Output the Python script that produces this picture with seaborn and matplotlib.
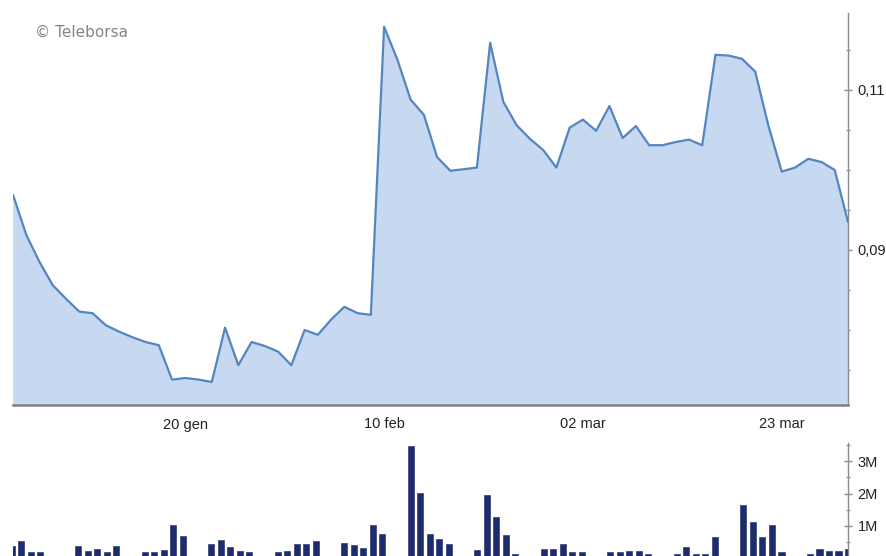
import numpy as np
import pandas as pd
import matplotlib
matplotlib.use("Agg")
import matplotlib.pyplot as plt
from matplotlib.ticker import MultipleLocator
import seaborn as sns

# prezzo di chiusura (un punto per seduta)
price = [0.0969, 0.0919, 0.0885, 0.0856, 0.0839, 0.0823, 0.0821, 0.0806,
         0.0798, 0.0791, 0.0785, 0.0781, 0.0738, 0.0740, 0.0738, 0.0735,
         0.0803, 0.0756, 0.0785, 0.0780, 0.0773, 0.0756, 0.0800, 0.0794,
         0.0813, 0.0829, 0.0821, 0.0819, 0.1179, 0.1138, 0.1088, 0.1069,
         0.1016, 0.0999, 0.1001, 0.1003, 0.1159, 0.1085, 0.1056, 0.1039,
         0.1025, 0.1003, 0.1053, 0.1063, 0.1049, 0.1080, 0.1040, 0.1055,
         0.1031, 0.1031, 0.1035, 0.1038, 0.1031, 0.1144, 0.1143, 0.1139,
         0.1123, 0.1055, 0.0998, 0.1003, 0.1014, 0.1010, 0.1000, 0.0935]
price_dates = pd.bdate_range("2019-12-31", "2020-03-30").drop(pd.Timestamp("2020-01-01"))

tick_dates = ["2020-01-20", "2020-02-10", "2020-03-02", "2020-03-23"]
tick_labels = ["20 gen", "10 feb", "02 mar", "23 mar"]
price_ticks = [0.09, 0.11]
price_tick_labels = ["0,09", "0,11"]

# volumi in milioni di pezzi
volume_dates = pd.bdate_range("2019-12-30", "2020-03-27")
volume_m = [0.40, 0.55, 0.21, 0.21, 0.00,
            0.40, 0.24, 0.30, 0.21, 0.40,
            0.21, 0.21, 0.27, 1.04, 0.70,
            0.46, 0.58, 0.37, 0.24, 0.21,
            0.21, 0.24, 0.46, 0.46, 0.55,
            0.49, 0.43, 0.34, 1.04, 0.76,
            3.50, 2.04, 0.76, 0.61, 0.46,
            0.27, 1.98, 1.31, 0.73, 0.15,
            0.30, 0.30, 0.46, 0.21, 0.21,
            0.21, 0.21, 0.24, 0.24, 0.15,
            0.15, 0.37, 0.15, 0.15, 0.67,
            1.68, 1.16, 0.67, 1.04, 0.21,
            0.15, 0.30, 0.24, 0.24, 0.30]
volume_ticks = [1, 2, 3]
volume_tick_labels = ["1M", "2M", "3M"]

LINE = "#5585bf"
FILL = "#c6d9f0"
BAR = "#1f2c6c"
AXIS = "#8c8c8c"
TXT = "#222222"

sns.set_style("white")
plt.rcParams["font.family"] = ["Liberation Sans", "DejaVu Sans"]

W, H = 887, 556
fig = plt.figure(figsize=(W / 100, H / 100), dpi=100)
ax = fig.add_axes([13 / W, 1 - 405 / H, 835 / W, 392 / H])
axv = fig.add_axes([13 / W, 0, 835 / W, (556 - 443) / H])

# --- prezzo
df = pd.DataFrame({"idx": np.arange(len(price)), "price": price})
ax.fill_between(df["idx"], df["price"], 0, color=FILL, lw=0, zorder=1)
sns.lineplot(data=df, x="idx", y="price", ax=ax, color=LINE, lw=1.6, zorder=3)
ax.set_xlim(0, len(price) - 1)
ax.set_ylim(0.070625, 0.119625)

tick_idx = [price_dates.get_loc(pd.Timestamp(d)) for d in tick_dates]
ax.set_xticks(tick_idx)
ax.set_xticklabels(tick_labels)
ax.yaxis.tick_right()
ax.set_yticks(price_ticks)
ax.set_yticklabels(price_tick_labels)
ax.yaxis.set_minor_locator(MultipleLocator(0.005))
ax.set_xlabel("")
ax.set_ylabel("")

for s in ["left", "top"]:
    ax.spines[s].set_visible(False)
ax.spines["bottom"].set_color("#7f7f7f")
ax.spines["bottom"].set_linewidth(1.8)
ax.spines["right"].set_color(AXIS)
ax.spines["right"].set_linewidth(1.0)
ax.tick_params(axis="x", direction="inout", length=8, width=1, color="#7f7f7f",
               labelsize=10.5, labelcolor=TXT, pad=5)
ax.tick_params(axis="y", which="major", direction="inout", length=6, width=1,
               color=AXIS, labelsize=10.5, labelcolor=TXT, pad=4)
ax.tick_params(axis="y", which="minor", direction="inout", length=3, width=0.8,
               color=AXIS)

# --- volumi
day_num = (volume_dates - volume_dates[0]).days
dv = pd.DataFrame({"day": day_num, "vol": volume_m})
sns.barplot(data=dv, x="day", y="vol", native_scale=True, width=0.85,
            color=BAR, saturation=1, errorbar=None, ax=axv, zorder=2)
axv.set_xlim(0.15, day_num[-1])
axv.set_ylim(0.06, 3.57)
axv.yaxis.tick_right()
axv.set_yticks(volume_ticks)
axv.set_yticklabels(volume_tick_labels)
axv.yaxis.set_minor_locator(MultipleLocator(0.5))
axv.set_xticks([])
axv.set_xlabel("")
axv.set_ylabel("")
for s in ["left", "top", "bottom"]:
    axv.spines[s].set_visible(False)
axv.spines["right"].set_color(AXIS)
axv.spines["right"].set_linewidth(1.0)
axv.tick_params(axis="y", which="major", direction="inout", length=6, width=1,
                color=AXIS, labelsize=10.5, labelcolor=TXT, pad=4)
axv.tick_params(axis="y", which="minor", direction="inout", length=3, width=0.8,
                color=AXIS)

fig.text(35 / W, 1 - 32 / H, "\u00a9 Teleborsa", color="#858585", fontsize=11,
         family=["DejaVu Sans"], va="center", ha="left")

fig.savefig("out.png", dpi=100)
